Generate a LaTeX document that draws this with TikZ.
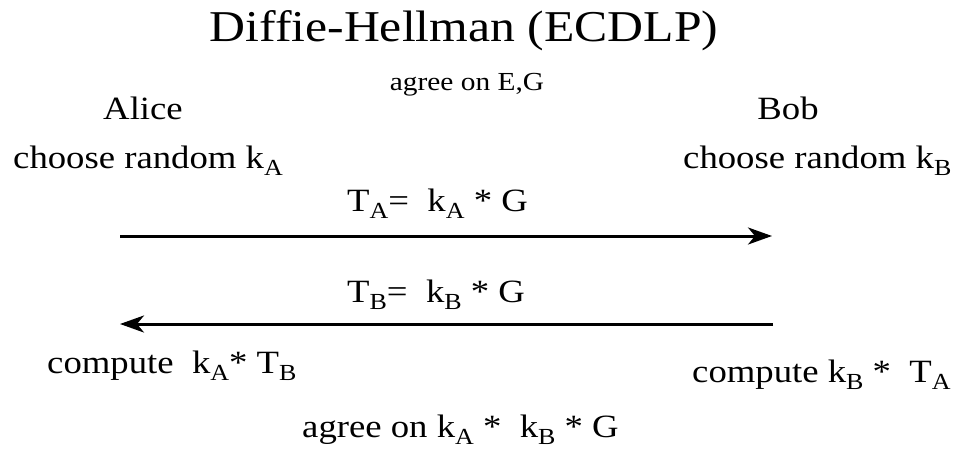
\documentclass[tikz,border=0pt]{standalone}
\usepackage{fontspec}
\setmainfont[FakeStretch=1.13]{Liberation Serif}
\usetikzlibrary{arrows.meta}
\newcommand\sbx[1]{\raisebox{-7.5pt}{\fontsize{23}{23}\selectfont #1}}
\begin{document}
\begin{tikzpicture}[x=1pt,y=-1pt,
  txt/.style={inner sep=0pt, font=\fontsize{32.5}{39}\selectfont},
  msg/.style={line width=3pt, -{Stealth[length=24pt,width=17pt,inset=7pt]}}]
\useasboundingbox (0,0) rectangle (959,450);
\node[txt, font=\fontsize{44}{50}\selectfont, anchor=base] (title) at (464,41) {Diffie-Hellman (ECDLP)};
\node[txt, font=\fontsize{26}{30}\selectfont, anchor=base] (agree) at (467,90) {agree on E,G};
\node[txt, anchor=base] (alice) at (143,119) {Alice};
\node[txt, anchor=base] (bob) at (788,119) {Bob};
\node[txt, anchor=base west] (chA) at (13,168) {choose random k\sbx{A}};
\node[txt, anchor=base west] (chB) at (683,168) {choose random k\sbx{B}};
\node[txt, anchor=base west] (tA) at (347,211) {T\sbx{A}=\ \ k\sbx{A} * G};
\node[txt, anchor=base west] (tB) at (347,302) {T\sbx{B}=\ \ k\sbx{B} * G};
\coordinate (a1s) at (120,236);
\coordinate (a1e) at (772,236);
\coordinate (a2s) at (773,324);
\coordinate (a2e) at (120,324);
\draw[msg] (a1s) -- (a1e);
\draw[msg] (a2s) -- (a2e);
\node[txt, anchor=base west] (cA) at (47,373) {compute\ \ k\sbx{A}* T\sbx{B}};
\node[txt, anchor=base west] (cB) at (692,382) {compute k\sbx{B} *\ \ T\sbx{A}};
\node[txt, anchor=base west] (fin) at (302,437) {agree on\ k\sbx{A} * \ k\sbx{B} * G};
\end{tikzpicture}
\end{document}
